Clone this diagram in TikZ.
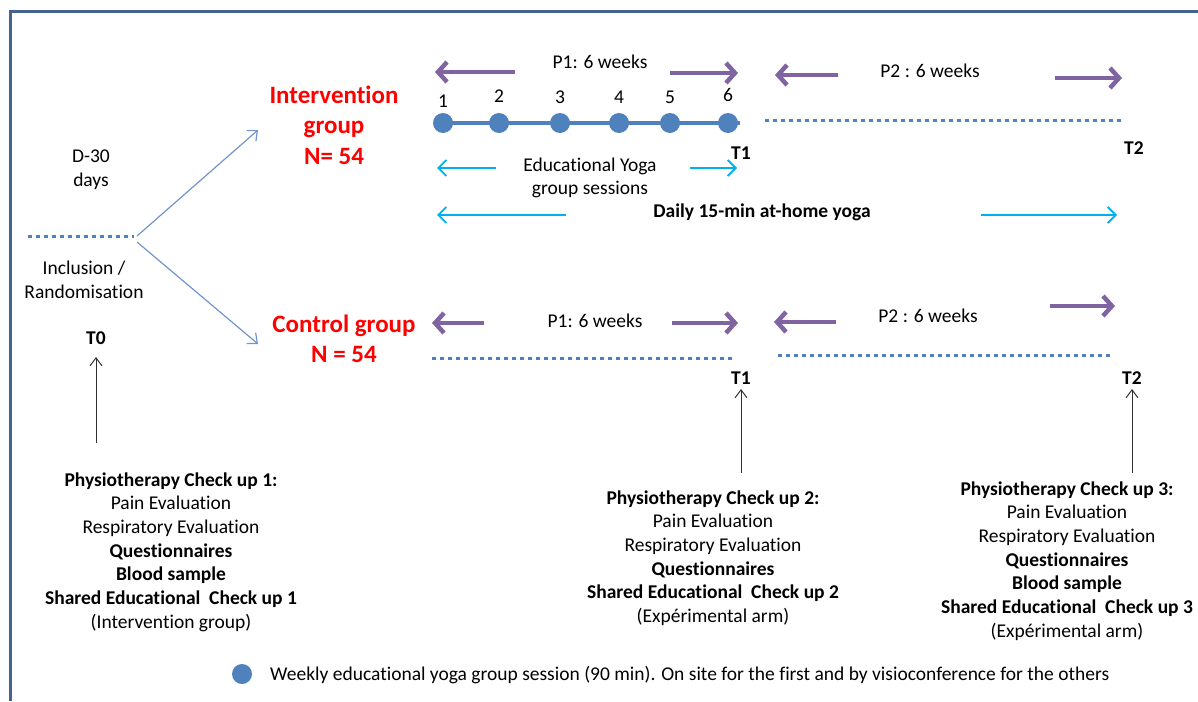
\documentclass[tikz,border=0pt]{standalone}
\usepackage{fontspec}
\setmainfont{Carlito}[Ligatures={NoCommon}]
\usepackage{xcolor}
\definecolor{mred}{HTML}{FF0000}
\definecolor{mblue}{HTML}{4F81BD}
\definecolor{mline}{HTML}{6F95CC}
\definecolor{mpurple}{HTML}{8064A2}
\definecolor{mcyan}{HTML}{00B0F0}
\definecolor{mframe}{HTML}{45638F}
\definecolor{mdark}{HTML}{303030}
\usetikzlibrary{arrows.meta}

\tikzset{
  txt/.style={font=\fontsize{19.5}{23.7}\selectfont, align=center, inner sep=0pt},
  btxt/.style={font=\fontsize{19.5}{23.7}\selectfont\bfseries, align=center, inner sep=0pt},
  grp/.style={font=\fontsize{25}{30.5}\selectfont\bfseries, text=mred, align=center, inner sep=0pt},
  period/.style={mpurple, line width=4.5pt, -{Straight Barb[length=9pt, width=20pt]}},
  yoga/.style={mcyan, line width=1.8pt, -{Straight Barb[length=8pt, width=16pt]}},
  branch/.style={mline, line width=1.2pt, -{Straight Barb[length=8pt, width=14pt]}},
  check/.style={mdark, line width=1pt, -{Straight Barb[length=8pt, width=12pt]}},
  dotline/.style={mblue, line width=3pt, dash pattern=on 4pt off 4pt},
  session/.style={circle, fill=mblue, minimum size=20pt, inner sep=0pt}
}

\begin{document}
\begin{tikzpicture}[x=1pt, y=-1pt]
        \useasboundingbox (0,0) rectangle (1198,701);
        \draw[mframe, line width=3pt] (1198,12) -- (10,12) -- (10,701);

        % inclusion
        \node[txt] (d30) at (91,170) {D-30\\days};
        \coordinate (inc0) at (28,236);
        \coordinate (inc1) at (134,236);
        \draw[dotline] (inc0) -- (inc1);
        \node[txt] (incl) at (84,280) {Inclusion /\\Randomisation};
        \node[btxt] (t0) at (96,338) {T0};

        % groups
        \node[grp] (interv) at (334,125) {Intervention\\group\\N= 54};
        \node[grp] (control) at (344,339) {Control group\\N = 54};
        \coordinate (up) at (258,130);
        \coordinate (down) at (258,344);
        \draw[branch] (137,236) -- (up);
        \draw[branch] (137,242) -- (down);

        % intervention timeline
        \coordinate (tl0) at (443,123);
        \coordinate (tl1) at (740,123);
        \draw[mblue, line width=4pt] (tl0) -- (tl1);
        \foreach \i/\x/\y in {1/443/101, 2/499/96, 3/560/97, 4/619/97, 5/670/97, 6/728/95} {
            \node[session] (s\i) at (\x,123) {};
            \node[txt] (n\i) at (\x,\y) {\i};
        }
        \coordinate (p2a) at (765,120);
        \coordinate (p2b) at (1124,120);
        \draw[dotline] (p2a) -- (p2b);
        \node[btxt] (it1) at (741,153) {T1};
        \node[btxt] (it2) at (1134,148) {T2};

        \node[txt] (ip1) at (600,62) {P1: 6 weeks};
        \draw[period] (515,72) -- (435,72);
        \draw[period] (670,73) -- (738,73);
        \node[txt] (ip2) at (930,71) {P2 : 6 weeks};
        \draw[period] (838,75) -- (775,75);
        \draw[period] (1055,78) -- (1122,78);

        \node[txt] (edu) at (590,178) {Educational Yoga\\group sessions};
        \draw[yoga] (496,168) -- (437,168);
        \draw[yoga] (690,168) -- (737,168);
        \node[btxt] (daily) at (762,212) {Daily 15-min at-home yoga};
        \draw[yoga] (566,215) -- (437,215);
        \draw[yoga] (981,215) -- (1117,215);

        % control timeline
        \node[txt] (cp1) at (595,321) {P1: 6 weeks};
        \draw[period] (484,323) -- (432,323);
        \draw[period] (672,323) -- (738,323);
        \node[txt] (cp2) at (928,316) {P2 : 6 weeks};
        \draw[period] (836,322) -- (774,322);
        \draw[period] (1050,306) -- (1115,306);
        \coordinate (c1a) at (432,358);
        \coordinate (c1b) at (735,358);
        \coordinate (c2a) at (778,355);
        \coordinate (c2b) at (1112,355);
        \draw[dotline] (c1a) -- (c1b);
        \draw[dotline] (c2a) -- (c2b);
        \node[btxt] (ct1) at (741,378) {T1};
        \node[btxt] (ct2) at (1132,378) {T2};

        % check ups
        \node[txt] (chk1) at (171,552) {\textbf{Physiotherapy Check up 1:}\\Pain Evaluation\\Respiratory Evaluation\\\textbf{Questionnaires}\\\textbf{Blood sample}\\\textbf{Shared Educational\ \ Check up 1}\\(Intervention group)};
        \node[txt] (chk2) at (713,558) {\textbf{Physiotherapy Check up 2:}\\Pain Evaluation\\Respiratory Evaluation\\\textbf{Questionnaires}\\\textbf{Shared Educational\ \ Check up 2}\\(Expérimental arm)};
        \node[txt] (chk3) at (1067,561) {\textbf{Physiotherapy Check up 3:}\\Pain Evaluation\\Respiratory Evaluation\\\textbf{Questionnaires}\\\textbf{Blood sample}\\\textbf{Shared Educational\ \ Check up 3}\\(Expérimental arm)};
        \coordinate (a0) at (96,443);
        \coordinate (a1) at (741,473);
        \coordinate (a2) at (1132,473);
        \draw[check] (a0) -- (96,357);
        \draw[check] (a1) -- (741,389);
        \draw[check] (a2) -- (1132,389);

        % legend
        \node[session] (key) at (242,674) {};
        \node[txt, anchor=west] (keytxt) at (270,675) {Weekly educational yoga group session (90 min). On site for the first and by visioconference for the others};
\end{tikzpicture}
\end{document}
